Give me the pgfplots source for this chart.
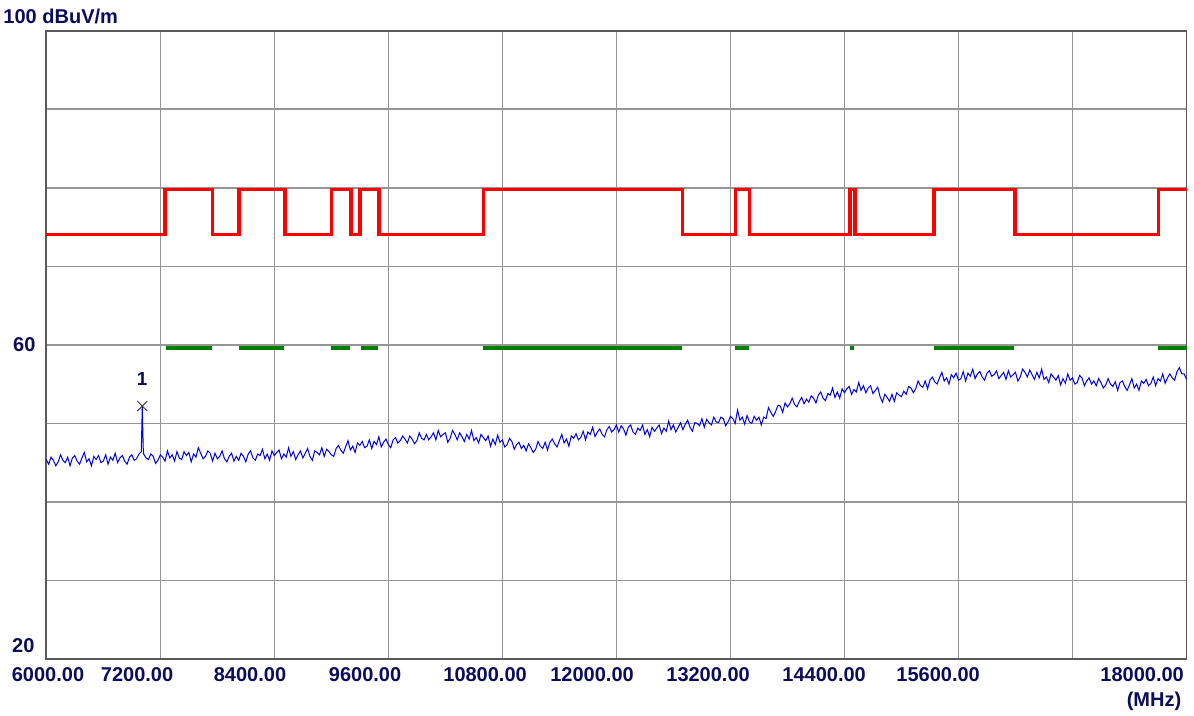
\documentclass[border=0pt]{standalone}
\usepackage{fontspec}
\setmainfont{Liberation Sans}
\usepackage{pgfplots}
\pgfplotsset{compat=1.18}
\definecolor{navy}{RGB}{12,12,92}
\definecolor{gridgray}{RGB}{150,150,150}
\definecolor{framegray}{RGB}{90,90,90}
\definecolor{limred}{RGB}{255,0,0}
\definecolor{limgreen}{RGB}{0,128,0}
\definecolor{trace}{RGB}{0,0,235}
\newcommand{\lbl}{\fontsize{20}{24}\selectfont\bfseries}
\begin{document}
\begin{tikzpicture}
\path[use as bounding box] (-46.3pt,-56pt) rectangle (1147.7pt,659pt);
\begin{axis}[
  at={(0pt,0pt)}, anchor=south west,
  scale only axis, width=1140.2pt, height=628.3pt,
  xmin=6000, xmax=18000, ymin=20, ymax=100,
  scaled x ticks=false, scaled y ticks=false,
  xtick={6000,7200,...,18000}, xticklabels={},
  ytick={20,30,...,100}, yticklabels={},
  major tick length=0pt,
  grid=major,
  major grid style={draw=gridgray, line width=1.6pt},
  axis line style={draw=framegray, line width=1.8pt},
  extra x ticks={6018,6955,8144,9355,10618,11744,12965,14186,15386,17533},
  extra x tick labels={6000.00,7200.00,8400.00,9600.00,10800.00,12000.00,13200.00,14400.00,15600.00,18000.00},
  extra x tick style={grid=none, major tick length=0pt},
  xticklabel style={font=\lbl, text=navy, anchor=center, yshift=-16pt, inner sep=0pt},
  clip=false,
]
% limit line (red)
\addplot[const plot, draw=limred, line width=3.5pt, line join=miter] coordinates {
 (6000,74.05) (7250,79.75) (7750,74.05) (8030,79.75) (8510,74.05) (9000,79.75)
 (9205,74.05) (9300,79.75) (9500,74.05) (10600,79.75) (12695,74.05) (13253,79.75)
 (13400,74.05) (14460,79.75) (14510,74.05) (15345,79.75) (16197,74.05) (17705,79.75)
 (18000,79.75)
};
% green segments
\addplot[draw=limgreen, line width=4pt, unbounded coords=jump, line cap=butt] coordinates {
 (7257,59.64) (7745,59.64) (7750,nan)
 (8028,59.64) (8502,59.64) (8505,nan)
 (8997,59.64) (9197,59.64) (9200,nan)
 (9310,59.64) (9488,59.64) (9490,nan)
 (10600,59.64) (12688,59.64) (12690,nan)
 (13253,59.64) (13394,59.64) (13396,nan)
 (14460,59.64) (14502,59.64) (14504,nan)
 (15344,59.64) (16186,59.64) (16188,nan)
 (17705,59.64) (18000,59.64)
};
% measured trace (blue)
\addplot[draw=trace, line width=1pt, mark=none] coordinates {
 (6000,45.4) (6025,44.8) (6050,45.7) (6075,45.3) (6100,44.6) (6125,45.1) (6150,46.0) (6175,45.3)
 (6200,45.0) (6225,45.7) (6250,44.6) (6275,45.6) (6300,45.9) (6325,45.2) (6350,44.8) (6375,45.6)
 (6400,46.3) (6425,45.1) (6450,45.5) (6475,44.6) (6500,45.8) (6525,45.4) (6550,45.9) (6575,45.0)
 (6600,45.2) (6625,46.0) (6650,44.8) (6675,45.7) (6700,45.3) (6725,46.2) (6750,45.0) (6775,45.6)
 (6800,45.9) (6825,45.2) (6850,44.8) (6875,45.7) (6900,46.0) (6925,45.3) (6950,45.5) (6975,46.1)
 (7000,46.4) (7010,52.2) (7020,46.9)
 (7025,46.1) (7050,45.6) (7075,45.4) (7100,46.1) (7125,45.8) (7150,44.9) (7175,45.3) (7200,46.0)
 (7225,45.7) (7250,45.2) (7275,46.5) (7300,45.6) (7325,46.0) (7350,45.2) (7375,46.4) (7400,45.6)
 (7425,45.4) (7450,46.4) (7475,45.9) (7500,46.3) (7525,45.1) (7550,46.1) (7575,45.7) (7600,46.9)
 (7625,46.2) (7650,45.5) (7675,45.8) (7700,46.5) (7725,46.2) (7750,45.2) (7775,46.2) (7800,45.5)
 (7825,45.8) (7850,46.5) (7875,45.5) (7900,45.1) (7925,45.8) (7950,46.2) (7975,45.2) (8000,45.8)
 (8025,45.3) (8050,46.2) (8075,45.8) (8100,45.1) (8125,46.1) (8150,46.5) (8175,45.6) (8200,45.3)
 (8225,46.1) (8250,45.9) (8275,46.7) (8300,45.5) (8325,46.1) (8350,45.3) (8375,46.5) (8400,45.9)
 (8425,46.3) (8450,46.6) (8475,45.5) (8500,46.1) (8525,45.7) (8550,46.9) (8575,45.8) (8600,46.4)
 (8625,45.4) (8650,46.0) (8675,46.5) (8700,45.6) (8725,46.2) (8750,46.8) (8775,45.8) (8800,45.3)
 (8825,46.5) (8850,46.3) (8875,46.0) (8900,46.9) (8925,45.8) (8950,46.7) (8975,46.4) (9000,46.0)
 (9025,45.8) (9050,46.8) (9075,47.2) (9100,46.6) (9125,46.2) (9150,47.0) (9175,47.8) (9200,46.6)
 (9225,47.1) (9250,46.3) (9275,47.5) (9300,47.2) (9325,47.7) (9350,46.9) (9375,47.1) (9400,47.9)
 (9425,46.8) (9450,47.7) (9475,47.3) (9500,48.3) (9525,47.0) (9550,47.6) (9575,48.0) (9600,47.3)
 (9625,46.9) (9650,47.9) (9675,48.2) (9700,47.5) (9725,47.8) (9750,48.4) (9775,48.0) (9800,47.5)
 (9825,48.4) (9850,48.0) (9875,47.4) (9900,47.8) (9925,48.8) (9950,48.1) (9975,47.9) (10000,48.6)
 (10025,47.9) (10050,48.3) (10075,48.8) (10100,47.9) (10125,49.1) (10150,48.3) (10175,48.6) (10200,48.8)
 (10225,47.6) (10250,48.1) (10275,49.1) (10300,48.6) (10325,47.9) (10350,48.8) (10375,48.3) (10400,47.7)
 (10425,48.6) (10450,48.0) (10475,49.1) (10500,47.8) (10525,48.2) (10550,47.5) (10575,48.6) (10600,48.2)
 (10625,47.8) (10650,48.4) (10675,47.1) (10700,48.0) (10725,47.3) (10750,48.5) (10775,47.6) (10800,47.9)
 (10825,47.0) (10850,47.3) (10875,48.1) (10900,47.7) (10925,46.7) (10950,47.3) (10975,47.6) (11000,46.8)
 (11025,47.2) (11050,46.5) (11075,47.4) (11100,46.9) (11125,46.3) (11150,46.7) (11175,47.7) (11200,47.1)
 (11225,46.8) (11250,47.6) (11275,46.6) (11300,47.6) (11325,48.0) (11350,47.4) (11375,47.0) (11400,47.8)
 (11425,48.6) (11450,47.5) (11475,48.0) (11500,47.1) (11525,48.4) (11550,48.1) (11575,48.7) (11600,47.9)
 (11625,48.2) (11650,49.0) (11675,47.9) (11700,48.9) (11725,48.6) (11750,49.5) (11775,48.3) (11800,48.9)
 (11825,49.3) (11850,48.6) (11875,48.3) (11900,49.2) (11925,49.6) (11950,48.9) (11975,49.2) (12000,49.8)
 (12025,48.9) (12050,49.7) (12075,49.3) (12100,48.5) (12125,49.5) (12150,49.8) (12175,48.9) (12200,48.6)
 (12225,49.4) (12250,49.1) (12275,49.8) (12300,48.6) (12325,49.2) (12350,48.3) (12375,49.5) (12400,49.0)
 (12425,49.4) (12450,49.8) (12475,48.7) (12500,49.4) (12525,49.0) (12550,50.3) (12575,49.2) (12600,49.8)
 (12625,48.9) (12650,49.5) (12675,50.1) (12700,49.2) (12725,49.9) (12750,50.4) (12775,49.5) (12800,49.0)
 (12825,50.1) (12850,50.0) (12875,49.7) (12900,50.6) (12925,49.5) (12950,50.5) (12975,50.1) (13000,49.8)
 (13025,50.8) (13050,50.2) (13075,50.1) (13100,50.8) (13125,50.6) (13150,49.7) (13175,50.2) (13200,50.9)
 (13225,50.6) (13250,50.0) (13275,51.7) (13300,50.4) (13325,50.8) (13350,49.9) (13375,51.0) (13400,50.2)
 (13425,50.0) (13450,50.9) (13475,50.4) (13500,50.8) (13525,49.8) (13550,50.8) (13575,50.6) (13600,52.0)
 (13625,51.4) (13650,50.9) (13675,51.5) (13700,52.3) (13725,52.2) (13750,51.4) (13775,52.6) (13800,52.1)
 (13825,52.5) (13850,53.2) (13875,52.4) (13900,52.1) (13925,52.8) (13950,53.3) (13975,52.5) (14000,53.1)
 (14025,52.7) (14050,53.5) (14075,53.2) (14100,52.6) (14125,53.6) (14150,54.0) (14175,53.2) (14200,52.9)
 (14225,53.8) (14250,53.6) (14275,54.5) (14300,53.3) (14325,54.0) (14350,53.2) (14375,54.4) (14400,53.9)
 (14425,54.4) (14450,54.7) (14475,53.7) (14500,54.3) (14525,54.0) (14550,55.2) (14575,54.2) (14600,54.8)
 (14625,53.9) (14650,54.5) (14675,54.8) (14700,53.8) (14725,54.2) (14750,54.6) (14775,53.4) (14800,52.7)
 (14825,53.7) (14850,53.3) (14875,52.8) (14900,53.7) (14925,52.8) (14950,53.9) (14975,53.6) (15000,53.4)
 (15025,54.1) (15050,53.7) (15075,54.7) (15100,54.5) (15125,53.9) (15150,54.4) (15175,55.4) (15200,54.8)
 (15225,54.6) (15250,55.4) (15275,54.4) (15300,55.5) (15325,55.9) (15350,55.3) (15375,55.0) (15400,55.8)
 (15425,56.5) (15450,55.4) (15475,55.8) (15500,55.0) (15525,56.2) (15550,55.8) (15575,56.4) (15600,55.5)
 (15625,55.7) (15650,56.6) (15675,55.4) (15700,56.4) (15725,56.0) (15750,56.9) (15775,55.7) (15800,56.3)
 (15825,56.6) (15850,55.9) (15875,55.5) (15900,56.4) (15925,56.7) (15950,56.0) (15975,56.2) (16000,56.7)
 (16025,55.7) (16050,56.1) (16075,56.5) (16100,55.6) (16125,56.7) (16150,55.9) (16175,56.2) (16200,56.5)
 (16225,55.4) (16250,55.9) (16275,56.9) (16300,56.5) (16325,55.9) (16350,56.8) (16375,56.2) (16400,55.6)
 (16425,56.5) (16450,55.8) (16475,56.9) (16500,55.6) (16525,55.9) (16550,55.2) (16575,56.3) (16600,55.9)
 (16625,55.5) (16650,56.1) (16675,54.9) (16700,55.7) (16725,55.1) (16750,56.3) (16775,55.5) (16800,55.8)
 (16825,55.0) (16850,55.2) (16875,56.1) (16900,55.8) (16925,54.8) (16950,55.4) (16975,55.8) (17000,55.0)
 (17025,55.4) (17050,54.8) (17075,55.7) (17100,55.2) (17125,54.5) (17150,54.9) (17175,55.7) (17200,55.0)
 (17225,54.7) (17250,55.3) (17275,54.2) (17300,55.2) (17325,55.4) (17350,54.7) (17375,54.2) (17400,54.9)
 (17425,55.7) (17450,54.5) (17475,55.0) (17500,54.2) (17525,55.4) (17550,55.1) (17575,55.6) (17600,54.8)
 (17625,55.1) (17650,55.9) (17675,54.8) (17700,55.7) (17725,55.4) (17750,56.3) (17775,55.1) (17800,55.8)
 (17825,56.3) (17850,55.8) (17875,55.5) (17900,56.6) (17925,57.1) (17950,56.3) (17975,56.3) (18000,55.6)
};
% marker 1
\addplot[only marks, mark=x, mark size=7pt, mark options={draw=black!75, line width=0.9pt},
  point meta=explicit symbolic, nodes near coords,
  every node near coord/.append style={font=\fontsize{19}{22}\selectfont\bfseries, text=navy, anchor=center, yshift=27pt, inner sep=0pt}]
  coordinates {(7010,52.2) [1]};
% axis texts
\node[font=\lbl, text=navy, anchor=west, inner sep=0pt] at (axis cs:6000,100) [xshift=-43pt, yshift=14pt] {100 dBuV/m};
\node[font=\lbl, text=navy, anchor=center, inner sep=0pt] at (axis cs:6000,60) [xshift=-22pt] {60};
\node[font=\lbl, text=navy, anchor=center, inner sep=0pt] at (axis cs:6000,20) [xshift=-23pt, yshift=13pt] {20};
\node[font=\lbl, text=navy, anchor=center, inner sep=0pt] at (axis cs:18000,20) [xshift=-32.5pt, yshift=-42.5pt] {(MHz)};
\end{axis}
\end{tikzpicture}
\end{document}
